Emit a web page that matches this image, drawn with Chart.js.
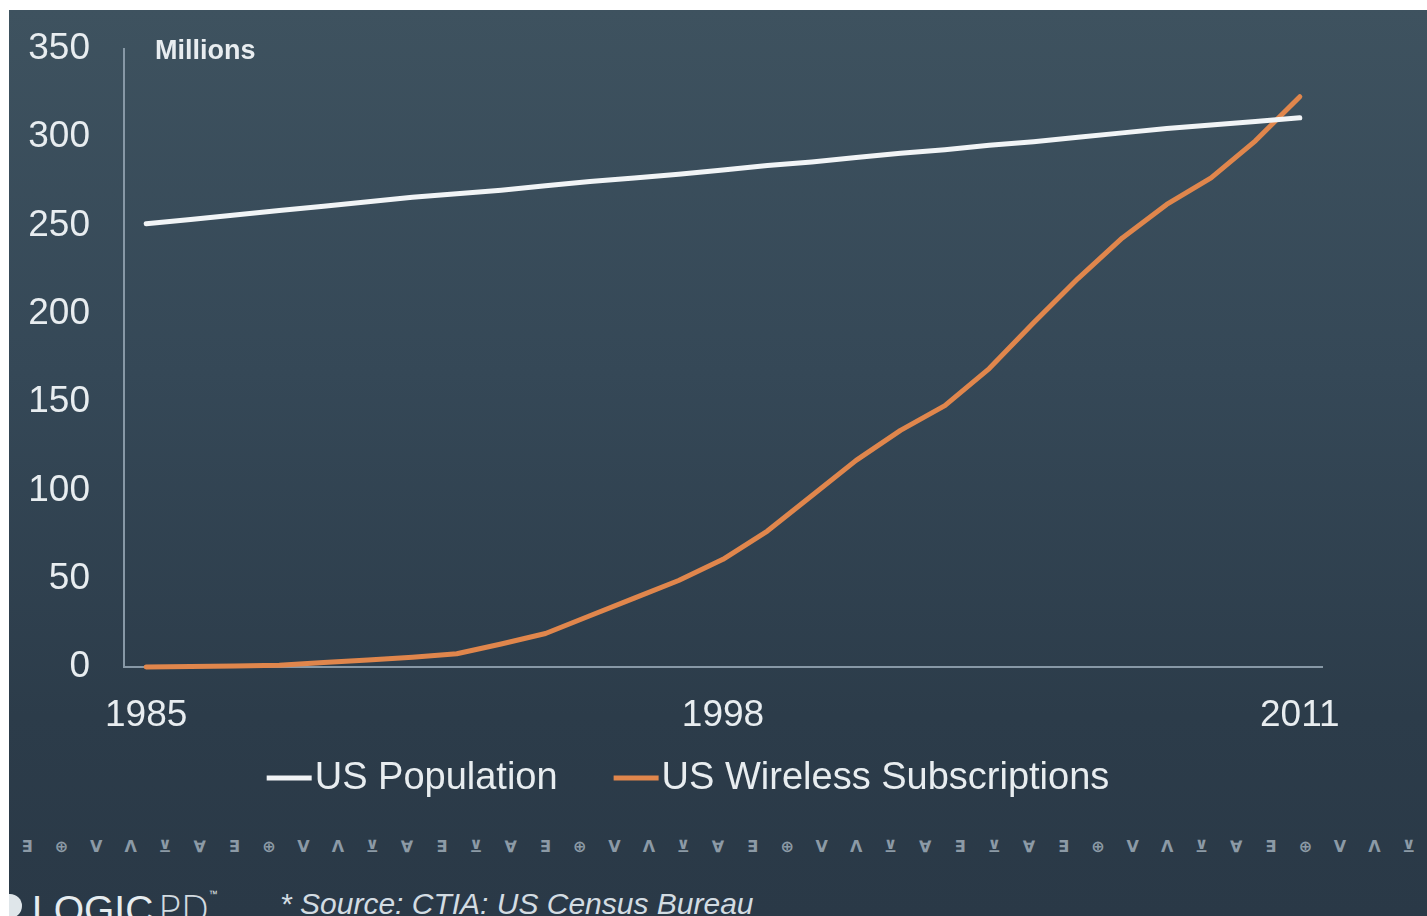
<!DOCTYPE html>
<html>
<head>
<meta charset="utf-8">
<script src="https://cdn.jsdelivr.net/npm/chart.js@4.4.0/dist/chart.umd.min.js"></script>
<style>
  html, body { margin: 0; padding: 0; background: #fff; }
  body { width: 1427px; height: 916px; position: relative; overflow: hidden; }
  #slide {
    position: absolute; left: 9px; top: 10px; right: 0; bottom: 0; overflow: hidden;
    background: linear-gradient(180deg, #3e525f 0%, #354857 40%, #2c3c4a 78%, #2a3947 100%);
  }
  #chart { position: absolute; left: 0; top: 0; }
  #glyphs {
    position: absolute; left: 0; top: 837px; width: 1427px; height: 24px;
    font: bold 16px "DejaVu Sans", sans-serif; color: #8c9aa6;
  }
  #glyphs span { position: absolute; width: 30px; margin-left: -15px; text-align: center; }
  #logo {
    position: absolute; left: 32px; top: 881px; white-space: nowrap;
    font: 400 39px "Liberation Sans", Arial, sans-serif; color: #e6ecef;
  }
  #logo .pd { font-family: "Open Sans", sans-serif; font-weight: 300; color: #d2dbe0; margin-left: 5px; }
  #logo sup { font-size: 9px; vertical-align: top; position: relative; top: 8px; }
  #mark {
    position: absolute; left: 9px; top: 894px; width: 13px; height: 24px; overflow: hidden;
  }
  #mark div {
    position: absolute; left: -11px; top: 0; width: 24px; height: 24px; border-radius: 50%;
    background: #dfe6ea;
  }
  #source {
    position: absolute; left: 280px; top: 889px;
    font: italic 30px/30px "Liberation Sans", Arial, sans-serif; color: #d3dce2;
  }
</style>
</head>
<body>
<div id="slide"></div>
<div id="glyphs"></div>
<div id="mark"><div></div></div>
<div id="logo">LOGIC<span class="pd">PD</span><sup>™</sup></div>
<div id="source">* Source: CTIA: US Census Bureau</div>
<canvas id="chart" width="1427" height="916"></canvas>
<script>
// years on the x axis, only some of them get a label
const years = ['1985', '1986', '1987', '1988', '1989', '1990', '1991', '1992', '1993',
  '1994', '1995', '1996', '1997', '1998', '1999', '2000', '2001', '2002', '2003',
  '2004', '2005', '2006', '2007', '2008', '2009', '2010', '2011'];
const labeledYears = ['1985', '1998', '2011'];

// millions
const population = [251, 253.5, 256, 258.5, 261, 263.5, 266, 268, 270,
  272.5, 275, 277, 279, 281.5, 284, 286, 288.5, 291, 293,
  295.5, 297.5, 300, 302.5, 305, 307, 309, 311];
const wireless = [0, 0.3, 0.6, 1, 2.5, 4, 5.5, 7.5, 13,
  19, 29, 39, 49, 61, 77, 97, 117, 134, 148,
  169, 195, 220, 243, 262, 277, 298, 323];

const yTicks = [0, 50, 100, 150, 200, 250, 300, 350];

// little symbol strip along the bottom
const glyphPattern = ['∃', '⊕', 'V', 'Λ', '⊻', '∀', '∃', '⊕', 'V', 'Λ', '⊻', '∀', '∃', '⊻', '∀'];
let strip = document.getElementById('glyphs');
for (let i = 0; i < 41; i++) {
  let s = document.createElement('span');
  s.textContent = glyphPattern[i % glyphPattern.length];
  s.style.left = (27 + i * 34.55) + 'px';
  strip.appendChild(s);
}

const textColor = '#e8edf0';
const fontFamily = '"Liberation Sans", Arial, sans-serif';

const millionsLabel = {
  id: 'millionsLabel',
  afterDraw(chart) {
    let ctx = chart.ctx;
    ctx.save();
    ctx.font = 'bold 27px ' + fontFamily;
    ctx.fillStyle = textColor;
    ctx.textBaseline = 'middle';
    ctx.fillText('Millions', chart.chartArea.left + 31, chart.chartArea.top + 3);
    ctx.restore();
  }
};

// legend with short line samples hugging the text
const lineLegend = {
  id: 'lineLegend',
  afterDraw(chart) {
    let ctx = chart.ctx;
    let sets = chart.data.datasets;
    ctx.save();
    ctx.font = '38px ' + fontFamily;
    let sample = 45, gap = 3, between = 56;
    let widths = sets.map(d => ctx.measureText(d.label).width);
    let total = widths.reduce((a, w) => a + sample + gap + w, 0) + between * (sets.length - 1);
    let x = 688 - total / 2;
    let y = 778;
    sets.forEach((d, i) => {
      ctx.strokeStyle = d.borderColor;
      ctx.lineWidth = 5;
      ctx.lineCap = 'butt';
      ctx.beginPath();
      ctx.moveTo(x, y);
      ctx.lineTo(x + sample, y);
      ctx.stroke();
      ctx.fillStyle = textColor;
      ctx.textBaseline = 'middle';
      ctx.fillText(d.label, x + sample + gap, y + 1);
      x += sample + gap + widths[i] + between;
    });
    ctx.restore();
  }
};

let ctx = document.getElementById('chart').getContext('2d');
let chart = new Chart(ctx, {
  type: 'line',
  data: {
    labels: years,
    datasets: [{
      label: 'US Population',
      data: population,
      borderColor: '#f1f4f6',
      borderWidth: 5
    }, {
      label: 'US Wireless Subscriptions',
      data: wireless,
      borderColor: '#e0864c',
      borderWidth: 5
    }]
  },
  options: {
    responsive: false,
    devicePixelRatio: 1,
    animation: false,
    layout: { padding: { left: 0, top: 49, right: 105, bottom: 159 } },
    elements: {
      point: { radius: 0 },
      line: { tension: 0, borderCapStyle: 'round', borderJoinStyle: 'round' }
    },
    datasets: { line: { clip: false } },
    plugins: { legend: { display: false }, tooltip: { enabled: false } },
    scales: {
      x: {
        type: 'category',
        offset: true,
        grid: { display: false, drawTicks: false },
        border: { display: true, color: '#8798a6', width: 2 },
        ticks: {
          autoSkip: false,
          maxRotation: 0,
          padding: 27,
          color: textColor,
          font: { family: fontFamily, size: 37 },
          callback: function (v) {
            let y = this.getLabelForValue(v);
            return labeledYears.includes(y) ? y : '';
          }
        },
        afterFit(scale) { scale.height = 90; }
      },
      y: {
        min: 0,
        max: 350,
        grid: { display: false, drawTicks: false },
        border: { display: true, color: '#8798a6', width: 2 },
        afterBuildTicks(scale) { scale.ticks = yTicks.map(v => ({ value: v })); },
        ticks: {
          padding: 34,
          color: textColor,
          font: { family: fontFamily, size: 37 }
        },
        afterFit(scale) {
          scale.width = 124;
          // the layout padding alone decides where the plot starts
          scale.paddingTop = 0;
          scale.paddingBottom = 0;
        }
      }
    }
  },
  plugins: [millionsLabel, lineLegend]
});
</script>
</body>
</html>
